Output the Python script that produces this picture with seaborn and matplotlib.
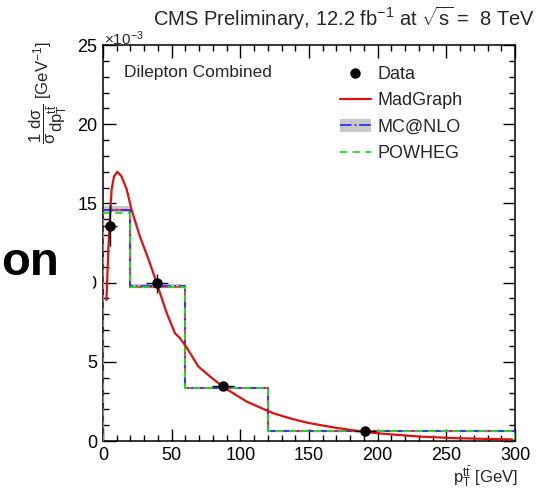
import matplotlib
matplotlib.use("Agg")
import matplotlib.pyplot as plt
import seaborn as sns
import pandas as pd
from matplotlib.patches import Rectangle, Patch
from matplotlib.lines import Line2D
from matplotlib.ticker import MultipleLocator, FuncFormatter

# Normalised differential cross section, values in units of 1e-3 GeV^-1
SCALE = 1e-3
bin_edges = [0, 20, 60, 120, 300]
mcatnlo = [14.60, 9.78, 3.36, 0.64]
mcatnlo_lo = [14.45, 9.68, 3.30, 0.60]
mcatnlo_hi = [14.85, 9.92, 3.42, 0.68]
powheg = [14.40, 9.70, 3.36, 0.66]
madgraph_hist = [14.58, 9.75, 3.32, 0.62]

data_x = [5.0, 39.3, 87.6, 191.0]
data_y = [13.6, 9.95, 3.50, 0.60]
data_xerr = [5.5, 8.0, 8.0, 8.0]
data_yerr = [1.3, 0.6, 0.25, 0.10]

# Finely binned MadGraph prediction
mg_pt = [2.5, 3.9, 5.1, 6.3, 8.0, 10.4, 13.5, 17.2, 20.8, 26.9, 33.0, 39.0,
         46.3, 52.4, 56.0, 60.9, 69.4, 78.0, 87.6, 104.6, 115.5, 124.0, 136.6,
         149.0, 167.0, 180.0, 192.6, 205.0, 230.8, 256.0, 275.0, 298.0]
mg_val = [8.9, 12.1, 14.2, 15.9, 16.7, 17.0, 16.7, 15.9, 14.6, 12.9, 11.5, 10.0,
          8.1, 6.8, 6.5, 5.9, 4.7, 4.07, 3.4, 2.49, 2.07, 1.75, 1.42,
          1.15, 0.87, 0.70, 0.55, 0.45, 0.28, 0.18, 0.14, 0.10]

y_ticks = [0, 5, 10, 15, 20, 25]

sns.set_theme(style="ticks")
plt.rcParams["font.family"] = ["Liberation Sans", "DejaVu Sans"]
plt.rcParams["mathtext.fontset"] = "custom"
plt.rcParams["mathtext.rm"] = "Liberation Sans"
plt.rcParams["mathtext.it"] = "Liberation Sans:italic"
plt.rcParams["mathtext.bf"] = "Liberation Sans:bold"
plt.rcParams["mathtext.sf"] = "Liberation Sans"
plt.rcParams["mathtext.default"] = "regular"

W, H = 543, 488
fig = plt.figure(figsize=(W / 100, H / 100), dpi=100)
fig.patch.set_facecolor("white")
ax = fig.add_axes([103 / W, 1 - 441 / H, (515 - 103) / W, (441 - 45) / H])
ax.set_facecolor("white")

scaled = lambda v: [x * SCALE for x in v]

# uncertainty band of MC@NLO
ax.stairs(scaled(mcatnlo_hi), bin_edges, baseline=scaled(mcatnlo_lo), fill=True,
          color="#c8c8c8", zorder=1)
ax.stairs(scaled(madgraph_hist), bin_edges, color="#e8504a", lw=1.6, zorder=2)
ax.stairs(scaled(mcatnlo), bin_edges, color="#3030ff", lw=1.3, ls="-.", zorder=3)
ax.stairs(scaled(powheg), bin_edges, color="#22dd22", lw=1.3, ls=(0, (4, 3)), zorder=4)

curve = pd.DataFrame({"pt": mg_pt, "val": scaled(mg_val)})
sns.lineplot(data=curve, x="pt", y="val", ax=ax, color="#dd1111", lw=1.6,
             zorder=5, legend=False)

ax.errorbar(data_x, scaled(data_y), xerr=data_xerr, yerr=scaled(data_yerr),
            fmt="o", color="black", ms=6.5, elinewidth=1.0, capsize=0, zorder=6)

ax.set_xlim(0, 300)
ax.set_ylim(0, 25 * SCALE)
ax.xaxis.set_major_locator(MultipleLocator(50))
ax.xaxis.set_minor_locator(MultipleLocator(10))
ax.set_yticks(scaled(y_ticks))
ax.yaxis.set_minor_locator(MultipleLocator(1 * SCALE))
ax.yaxis.set_major_formatter(FuncFormatter(lambda v, p: f"{v / SCALE:.0f}"))

ax.tick_params(which="both", direction="in", top=True, right=True,
               labelsize=13, colors="black", width=1.0)
ax.tick_params(which="major", length=9, pad=4)
ax.tick_params(which="minor", length=4.5)
for s in ax.spines.values():
    s.set_color("black")
    s.set_linewidth(1.1)
ax.set_xlabel("")
ax.set_ylabel("")

def fx(px):
    return px / W

def fy(py):
    return 1 - py / H

fig.text(fx(104), fy(45), r"$\times$10$^{-3}$", ha="left", va="baseline", fontsize=11)
fig.text(fx(535), fy(26), r"CMS Preliminary, 12.2 fb$^{-1}$ at $\sqrt{s}$ =  8 TeV",
         ha="right", va="baseline", fontsize=14.5)
fig.text(fx(124), fy(77), "Dilepton Combined", ha="left", va="baseline", fontsize=12.5)
fig.text(fx(48), fy(42),
         r"$\dfrac{1}{\sigma}\dfrac{d\sigma}{dp_{T}^{t\bar{t}}}$ [GeV$^{-1}$]",
         rotation=90, ha="center", va="top", fontsize=12)
fig.text(fx(518), fy(482), r"p$_{T}^{t\bar{t}}$ [GeV]", ha="right", va="baseline",
         fontsize=12)

handles = [
    Line2D([], [], marker="o", color="black", ls="none", ms=6.5),
    Line2D([], [], color="#dd1111", lw=1.6),
    (Patch(facecolor="#c8c8c8", edgecolor="none"),
     Line2D([], [], color="#3030ff", lw=1.3, ls="-.")),
    Line2D([], [], color="#22dd22", lw=1.3, ls=(0, (4, 3))),
]
labels = ["Data", "MadGraph", "MC@NLO", "POWHEG"]
ax.legend(handles, labels, loc="upper left",
          bbox_to_anchor=(fx(340), fy(66)), bbox_transform=fig.transFigure,
          frameon=False, fontsize=13, handlelength=1.7, handletextpad=0.4,
          labelspacing=0.52, borderaxespad=0, borderpad=0)

# left margin cover with bold caption fragment
fig.patches.append(Rectangle((0, fy(335)), fx(93), fy(215) - fy(335),
                             transform=fig.transFigure, facecolor="white",
                             edgecolor="none", zorder=10))
fig.text(fx(1), fy(275), "on", ha="left", va="baseline", fontsize=34,
         fontweight="bold", color="black", zorder=11)

fig.savefig("out.png", dpi=100, facecolor="white")
